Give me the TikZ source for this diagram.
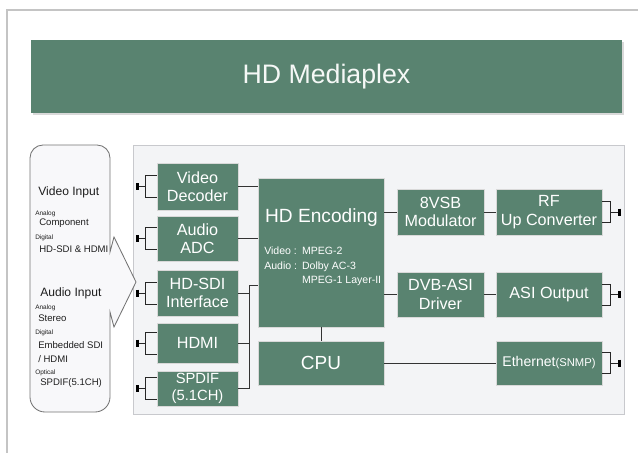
\documentclass[tikz,border=0pt]{standalone}
\usepackage{fontspec}
\setmainfont{Liberation Sans}
\usetikzlibrary{calc,shadows}

\definecolor{mpgreen}{RGB}{89,131,112}
\definecolor{panelbg}{RGB}{243,244,246}
\definecolor{panelline}{RGB}{200,201,205}
\definecolor{framegray}{RGB}{196,196,196}
\definecolor{inkgray}{RGB}{30,30,30}

\begin{document}
\begin{tikzpicture}[x=0.025cm,y=-0.025cm,
  sz/.style 2 args={minimum width=#1*0.025cm,minimum height=#2*0.025cm},
  blk/.style={fill=mpgreen,draw=gray!30,line width=0.5pt,text=white,align=center,
    inner sep=0pt,font=\fontsize{11.5}{13}\selectfont},
  wire/.style={draw=black!80,line width=0.7pt},
  portline/.style={draw=black!85,line width=0.6pt},
  jack/.style={draw=black,line width=1.7pt},
  intxt/.style={anchor=west,inner sep=0pt,text=inkgray},
  big/.style={font=\fontsize{8.6}{9}\selectfont},
  mid/.style={font=\fontsize{6.8}{7}\selectfont},
  tiny/.style={font=\fontsize{4.6}{5}\selectfont}]

\useasboundingbox (0,0) rectangle (638,453);

\draw[framegray,line width=1.4pt] (7,453) -- (7,10) -- (638,10);

\node[fill=mpgreen,sz={591}{73},text=white!94!mpgreen,font=\fontsize{19}{20}\selectfont,
  drop shadow={shadow xshift=1.2pt,shadow yshift=-1.2pt,opacity=0.3}] (ttl) at (326.5,76.5) {HD Mediaplex};

\filldraw[fill=panelbg,draw=panelline,line width=0.6pt] (133,145) rectangle (624,414);

\filldraw[fill=panelbg!60!white,draw=black!55,line width=0.6pt]
  (30,158) .. controls (30,150.8) and (35.8,145) .. (43,145) -- (97,145)
  .. controls (104.2,145) and (110,150.8) .. (110,158) -- (110,252) -- (114,237)
  -- (136,282) -- (114,327) -- (110,312) -- (110,397)
  .. controls (110,405.3) and (103.3,412) .. (95,412) -- (45,412)
  .. controls (36.7,412) and (30,405.3) .. (30,397) -- cycle;

\node[intxt,big] (vin) at (38,192) {Video Input};
\node[intxt,tiny] (van) at (35,214) {Analog};
\node[intxt,mid] (vcomp) at (39,223) {Component};
\node[intxt,tiny] (vdig) at (35,238) {Digital};
\node[intxt,mid] (vsdi) at (39,249) {HD-SDI \& HDMI};
\node[intxt,big] (ain) at (40,293) {Audio Input};
\node[intxt,tiny] (aan) at (35,308) {Analog};
\node[intxt,mid] (aster) at (38,318) {Stereo};
\node[intxt,tiny] (adig) at (35,333) {Digital};
\node[intxt,mid] (aemb) at (38,345) {Embedded SDI};
\node[intxt,mid] (ahdmi) at (38,359) {/ HDMI};
\node[intxt,tiny] (aopt) at (35,373) {Optical};
\node[intxt,mid] (aspdif) at (40,383) {SPDIF(5.1CH)};

\node[blk,sz={81}{47}] (vdec) at (197.5,186.5) {Video\\Decoder};
\node[blk,sz={81}{45}] (adc) at (197.5,238.5) {Audio\\ADC};
\node[blk,sz={81}{46}] (sdi) at (197.5,293) {HD-SDI\\Interface};
\node[blk,sz={81}{40}] (hdmi) at (197.5,343) {HDMI};
\node[blk,sz={81}{35},font=\fontsize{10.5}{12}\selectfont] (spdif) at (197.5,388.5) {SPDIF\\(5.1CH)};

\node[blk,sz={126}{149}] (enc) at (321,252.5) {};
\node[text=white,font=\fontsize{13.6}{14}\selectfont,inner sep=0pt] (enctitle) at (321.5,218) {HD Encoding};
\node[text=white,anchor=north west,inner sep=0pt,font=\fontsize{7.5}{10.4}\selectfont] (encspec) at (264,244)
  {\begin{tabular}{@{}l@{\hspace{3.5pt}}l@{}}Video : & MPEG-2\\Audio : & Dolby AC-3\\ & MPEG-1 Layer-II\end{tabular}};
\node[blk,sz={126}{44},font=\fontsize{13.5}{14}\selectfont] (cpu) at (321,363) {CPU};

\node[blk,sz={87}{46}] (vsb) at (440.5,212) {8VSB\\Modulator};
\node[blk,sz={106}{46}] (rf) at (549,212) {RF\\Up Converter};
\node[blk,sz={87}{45}] (dvb) at (440.5,294.5) {DVB-ASI\\Driver};
\node[blk,sz={106}{45}] (asi) at (549,294.5) {ASI Output};
\node[blk,sz={106}{44},font=\fontsize{10}{12}\selectfont] (eth) at (549,363) {Ethernet{\fontsize{8}{10}\selectfont(SNMP)}};

\coordinate (bustop) at (249,285);
\coordinate (busbot) at (249,388.5);

\draw[wire] (vdec.east) -- (vdec.east -| enc.west);
\draw[wire] (adc.east) -- (adc.east -| enc.west);
\draw[wire] (bustop -| enc.west) -- (bustop) -- (busbot) -- (spdif.east);
\draw[wire] (sdi.east) -- (sdi.east -| bustop);
\draw[wire] (hdmi.east) -- (hdmi.east -| bustop);
\draw[wire] (enc.south) -- (cpu.north);
\draw[wire] (vsb.west -| enc.east) -- (vsb.west);
\draw[wire] (vsb.east) -- (rf.west);
\draw[wire] (dvb.west -| enc.east) -- (dvb.west);
\draw[wire] (dvb.east) -- (asi.west);
\draw[wire] (cpu.east) -- (eth.west);

\foreach \n in {vdec,adc,sdi,hdmi,spdif} {
  \draw[portline] ($(\n.west)+(0,-11)$) -- ++(-11,0) -- ++(0,22) -- ++(11,0);
  \draw[portline] ($(\n.west)+(-11,0)$) -- ++(-8,0) coordinate (\n jack);
  \draw[jack] ($(\n jack)+(0,-3.5)$) -- ++(0,7);
}

\foreach \n in {rf,asi,eth} {
  \draw[portline] ($(\n.east)+(0,-10.5)$) -- ++(8,0) -- ++(0,21) -- ++(-8,0);
  \draw[portline] ($(\n.east)+(8,0)$) -- ++(9,0) coordinate (\n jack);
  \draw[jack] ($(\n jack)+(0,-3.5)$) -- ++(0,7);
}

\end{tikzpicture}
\end{document}
